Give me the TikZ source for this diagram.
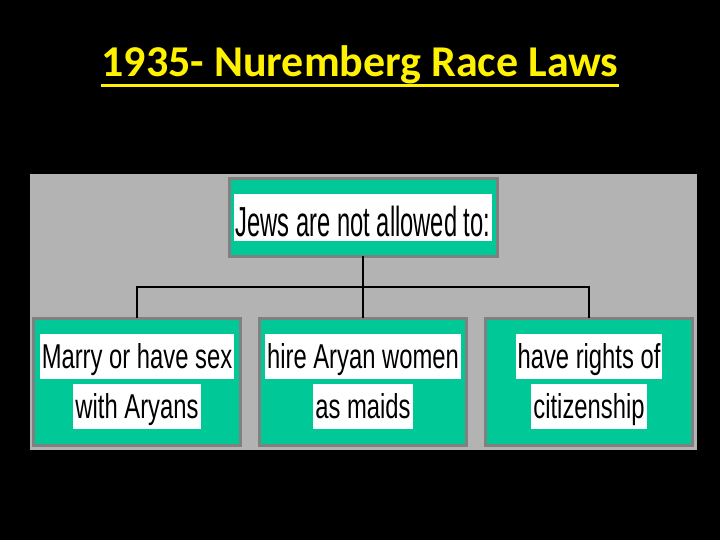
\documentclass[tikz,border=0pt]{standalone}
\usepackage{fontspec}
\usepackage{xcolor}
\usepackage{tikz}
\usetikzlibrary{positioning}
\setmainfont{Liberation Sans}
\newfontfamily\titlefont{Carlito}
\newfontfamily\headfont[FakeStretch=0.565]{Liberation Sans}
\newfontfamily\leaffont[FakeStretch=0.69]{Liberation Sans}
\definecolor{lawgreen}{RGB}{0,200,150}
\definecolor{panelgray}{RGB}{179,179,179}
\definecolor{rimgray}{RGB}{128,128,128}
\newcommand\hl[2][0.3em]{{\setlength\fboxsep{0pt}\colorbox{white}{\hspace{2pt}\rule[-#1]{0pt}{\dimexpr1em+#1\relax}#2\hspace{2pt}}}}
\tikzset{
    base/.style={draw=rimgray, line width=3pt, fill=lawgreen, align=center, inner sep=0pt, outer sep=0pt},
    headbox/.style={base, minimum width=268pt, minimum height=77pt, font=\headfont\fontsize{42}{50}\selectfont},
    leafbox/.style={base, minimum width=207pt, minimum height=127pt, font=\leaffont\fontsize{34.5}{50}\selectfont},
    line/.style={draw=black, line width=2.5pt}
}
\begin{document}
\begin{tikzpicture}[x=1pt, y=-1pt]
    \fill[black] (0,0) rectangle (720,540);
    \node [anchor=base, text=yellow, inner sep=0pt, font=\titlefont\bfseries\fontsize{44}{52}\selectfont] (title) at (360,77) {1935- Nuremberg Race Laws};
    \draw [yellow, line width=3pt] ([yshift=-9pt]title.base west) -- ([yshift=-9pt]title.base east);
    \fill[panelgray] (30,174) rectangle (697,450);
    \node [headbox] (laws) at (363,217.5) {\hl[0.1em]{Jews are not allowed to:}};
    \node [leafbox, below=62pt of laws] (hire) {\hl{hire Aryan women}\\\hl{as maids}};
    \node [leafbox, left=19pt of hire] (marry) {\hl{Marry or have sex}\\\hl{with Aryans}};
    \node [leafbox, right=19pt of hire] (rights) {\hl{have rights of}\\\hl{citizenship}};
    \draw [line] (laws.south) -- ++(0,31) coordinate (fork);
    \draw [line] (marry.north) |- (fork) -| (rights.north);
    \draw [line] (hire.north) -- (fork);
\end{tikzpicture}
\end{document}
